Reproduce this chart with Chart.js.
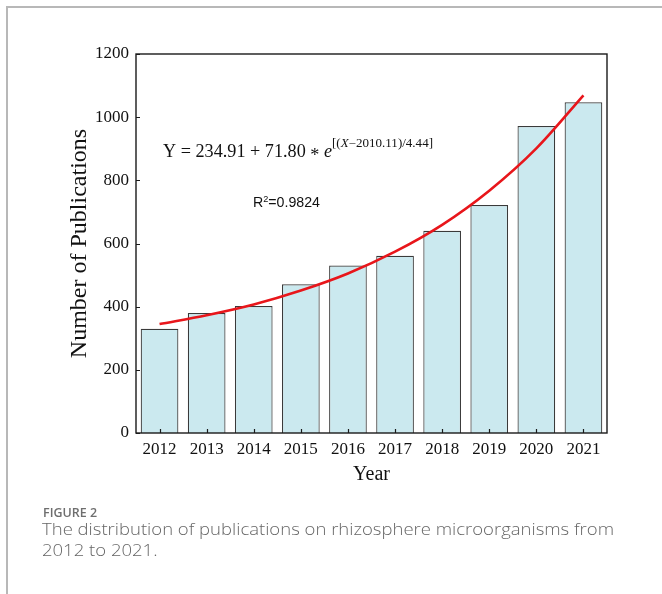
<!DOCTYPE html>
<html>
<head>
<meta charset="utf-8">
<script src="https://cdn.jsdelivr.net/npm/chart.js@4/dist/chart.umd.min.js"></script>
<style>
  html, body { margin: 0; padding: 0; background: #fff; }
  canvas { display: block; }
</style>
</head>
<body>
<canvas id="chart" width="662" height="594"></canvas>
<script>
// Publications per year and the exponential fit through them
const years = ['2012', '2013', '2014', '2015', '2016', '2017', '2018', '2019', '2020', '2021'];
const publications = [330, 380, 402, 471, 530, 561, 640, 722, 972, 1047];
const fitValues = [345, 373, 407, 451, 505, 574, 659, 767, 901, 1069];
const yTickValues = [0, 200, 400, 600, 800, 1000, 1200];

// Fit parameters and goodness of fit shown in the annotation
const fitA = '234.91';
const fitB = '71.80';
const fitX0 = '2010.11';
const fitScale = '4.44';
const rSquared = '0.9824';

const yTitle = 'Number of Publications';
const xTitle = 'Year';
const figureLabel = 'FIGURE 2';
const captionLines = [
  'The distribution of publications on rhizosphere microorganisms from',
  '2012 to 2021.'
];

const SERIF = '"Liberation Serif", "Times New Roman", serif';
const SANS = '"Liberation Sans", Arial, sans-serif';
const CAPTION = '"Open Sans", Lato, sans-serif';

// Draw a row of differently styled text runs, optionally squeezed to a width
function drawRuns(ctx, runs, x, baseline, targetWidth) {
  let total = 0;
  runs.forEach(r => { ctx.font = r.font; r.w = ctx.measureText(r.text).width; total += r.w; });
  const k = targetWidth ? targetWidth / total : 1;
  ctx.save();
  ctx.translate(x, baseline);
  ctx.scale(k, 1);
  ctx.textAlign = 'left';
  ctx.textBaseline = 'alphabetic';
  let cx = 0;
  runs.forEach(r => {
    ctx.font = r.font;
    ctx.fillStyle = r.color || '#111';
    ctx.fillText(r.text, cx, r.dy || 0);
    cx += r.w;
  });
  ctx.restore();
}

const decorations = {
  id: 'decorations',
  afterDraw(chart) {
    const ctx = chart.ctx;
    const area = chart.chartArea;
    const xs = chart.scales.x;
    const ys = chart.scales.y;

    // page frame
    ctx.save();
    ctx.strokeStyle = '#b8b8b8';
    ctx.lineWidth = 2;
    ctx.beginPath();
    ctx.moveTo(7, 594);
    ctx.lineTo(7, 7);
    ctx.lineTo(662, 7);
    ctx.stroke();

    // plot box
    ctx.strokeStyle = '#1a1a1a';
    ctx.lineWidth = 1.4;
    ctx.strokeRect(area.left, area.top, area.right - area.left, area.bottom - area.top);

    // inward tick marks
    ctx.lineWidth = 1.2;
    ctx.beginPath();
    ys.ticks.forEach((t, i) => {
      const py = Math.round(ys.getPixelForTick(i)) + 0.5;
      ctx.moveTo(area.left, py);
      ctx.lineTo(area.left + 4, py);
    });
    xs.ticks.forEach((t, i) => {
      const px = Math.round(xs.getPixelForTick(i)) + 0.5;
      ctx.moveTo(px, area.bottom);
      ctx.lineTo(px, area.bottom - 4);
    });
    ctx.stroke();
    ctx.restore();

    // axis titles
    ctx.save();
    ctx.fillStyle = '#111';
    ctx.font = '24px ' + SERIF;
    ctx.textAlign = 'center';
    ctx.textBaseline = 'middle';
    ctx.translate(80, (area.top + area.bottom) / 2);
    ctx.rotate(-Math.PI / 2);
    ctx.fillText(yTitle, 0, 0);
    ctx.restore();

    ctx.save();
    ctx.fillStyle = '#111';
    ctx.font = '20px ' + SERIF;
    ctx.textAlign = 'center';
    ctx.textBaseline = 'alphabetic';
    ctx.fillText(xTitle, (area.left + area.right) / 2, 480);
    ctx.restore();

    // fit equation
    drawRuns(ctx, [
      { text: 'Y = ' + fitA + ' + ' + fitB + ' ', font: '18px ' + SERIF },
      { text: '*', font: '18px ' + SERIF, dy: 4 },
      { text: ' ', font: '18px ' + SERIF },
      { text: 'e', font: 'italic 18px ' + SERIF }
    ], 163, 157, 169);
    drawRuns(ctx, [
      { text: '[(', font: '500 11.5px ' + SERIF },
      { text: 'X', font: 'italic 500 11.5px ' + SERIF },
      { text: '\u2212' + fitX0 + ')/' + fitScale + ']', font: '500 11.5px ' + SERIF }
    ], 332, 147, 101);

    // coefficient of determination
    drawRuns(ctx, [
      { text: 'R', font: '14px ' + SANS },
      { text: '2', font: '9px ' + SANS, dy: -5 },
      { text: '=' + rSquared, font: '14px ' + SANS }
    ], 253, 207, 67);

    // figure caption
    drawRuns(ctx, [{ text: figureLabel, font: '600 13px ' + CAPTION, color: '#6e6e6e' }], 43, 517, 54);
    ctx.save();
    ctx.font = '300 17px ' + CAPTION;
    const w1 = ctx.measureText(captionLines[0]).width;
    const w2 = ctx.measureText(captionLines[1]).width;
    ctx.restore();
    const k = 572 / w1;
    drawRuns(ctx, [{ text: captionLines[0], font: '300 17px ' + CAPTION, color: '#666' }], 42, 535, 572);
    drawRuns(ctx, [{ text: captionLines[1], font: '300 17px ' + CAPTION, color: '#666' }], 42, 556, w2 * k);
  }
};

new Chart(document.getElementById('chart'), {
  data: {
    labels: years,
    datasets: [
      {
        type: 'line',
        data: fitValues,
        borderColor: '#e8161b',
        borderWidth: 2.6,
        pointRadius: 0,
        cubicInterpolationMode: 'monotone',
        fill: false,
        order: 0
      },
      {
        type: 'bar',
        data: publications,
        backgroundColor: '#cbe9ef',
        borderColor: '#3a3a3a',
        borderWidth: 1.2,
        barPercentage: 0.8,
        categoryPercentage: 1.0,
        order: 1
      }
    ]
  },
  options: {
    responsive: false,
    animation: false,
    devicePixelRatio: 1,
    layout: { padding: { top: 54, right: 55, left: 0, bottom: 0 } },
    plugins: { legend: { display: false }, tooltip: { enabled: false } },
    scales: {
      x: {
        type: 'category',
        grid: { display: false, drawTicks: false },
        border: { display: false },
        ticks: { color: '#111', font: { family: SERIF, size: 17 }, padding: 6, maxRotation: 0 },
        afterFit(scale) { scale.height = 161; }
      },
      y: {
        min: 0,
        max: 1200,
        grid: { display: false, drawTicks: false },
        border: { display: false },
        afterBuildTicks(scale) { scale.ticks = yTickValues.map(v => ({ value: v })); },
        ticks: {
          color: '#111',
          font: { family: SERIF, size: 17 },
          padding: 7,
          callback: v => String(v)
        },
        afterFit(scale) { scale.width = 136; }
      }
    }
  },
  plugins: [decorations]
});
</script>
</body>
</html>
